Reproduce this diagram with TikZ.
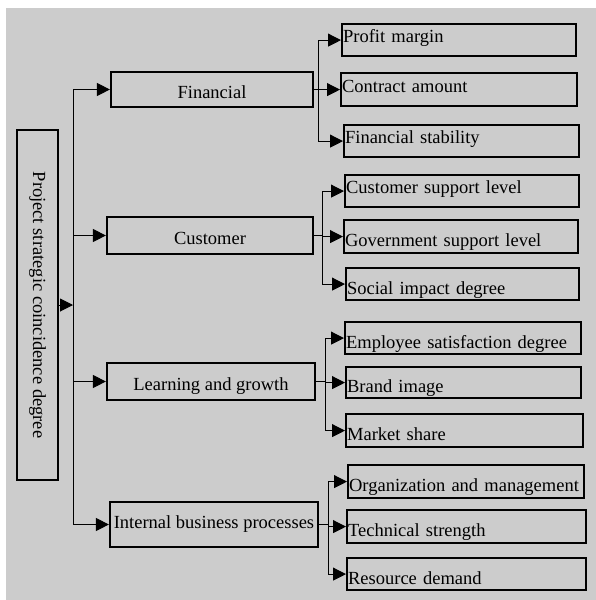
\documentclass[tikz,border=0pt]{standalone}
\usepackage{fontspec}
\setmainfont{Liberation Serif}
\usepackage{tikz}
\usetikzlibrary{arrows.meta,positioning}
\definecolor{panelgray}{RGB}{204,204,204}

\begin{document}
\begin{tikzpicture}[
  x=1pt,y=-1pt,
  font=\fontsize{18.5}{22}\selectfont,
  box/.style={draw,line width=2.2pt,align=center,inner sep=1pt,text height=17pt,text depth=0pt},
  leaf/.style={draw,line width=2.2pt,align=left,inner xsep=1pt,inner ysep=0pt,
               anchor=north west,minimum height=32pt,text height=20pt,text depth=0pt},
  upper/.style={text height=5pt},
  arrow/.style={-{Triangle[length=13pt,width=13pt]},line width=1pt},
  link/.style={line width=1pt}
]
\useasboundingbox (0,0) rectangle (596,600);
\fill[panelgray] (6,8) rectangle (596,600);

% root and second level
\node[draw,line width=2.2pt,inner sep=1pt,rotate=-90,minimum width=350pt,minimum height=41pt] (root) at (37.5,305) {Project strategic coincidence degree};
\node[box,minimum width=202pt,minimum height=35pt] (fin) at (212,89.5) {Financial};
\node[box,minimum width=206pt,minimum height=37pt] (cust) at (210,235.5) {Customer};
\node[box,minimum width=208pt,minimum height=37pt] (learn) at (211,381.5) {Learning and growth};
\node[box,text height=8pt,minimum width=208pt,minimum height=45pt] (intern) at (214,524.5) {Internal business processes};

% indicators
\node[leaf,upper,text width=232pt] (profit) at (341,23) {Profit margin};
\node[leaf,upper,text width=234pt,minimum height=33pt] (contract) at (340,72) {Contract amount};
\node[leaf,upper,text width=233pt] (stability) at (343,124) {Financial stability};
\node[leaf,upper,text width=232pt] (custsup) at (344,174) {Customer support level};
\node[leaf,text width=232pt,minimum height=33pt] (govsup) at (343,219) {Government support level};
\node[leaf,text width=231pt] (social) at (345,267) {Social impact degree};
\node[leaf,text width=234pt] (employee) at (344,321) {Employee satisfaction degree};
\node[leaf,text width=233pt,minimum height=31pt] (brand) at (345,366) {Brand image};
\node[leaf,text width=235pt,minimum height=33pt] (market) at (345,413) {Market share};
\node[leaf,text width=234pt,minimum height=33pt] (org) at (347,464) {Organization and management};
\node[leaf,text width=237pt,minimum height=33pt] (tech) at (346,509) {Technical strength};
\node[leaf,text width=237pt] (resource) at (346,557) {Resource demand};

% forks
\coordinate (trunk) at (73,305);
\coordinate[right=4pt of fin.east] (finfork);
\coordinate[right=8pt of cust.east] (custfork);
\coordinate[right=9pt of learn.east] (learnfork);
\coordinate[right=9pt of intern.east] (internfork);

\draw[arrow] (root)--(trunk);
\draw[arrow] (trunk)|-(fin.west);
\draw[arrow] (trunk)|-(cust.west);
\draw[arrow] (trunk)|-(learn.west);
\draw[arrow] (trunk)|-(intern.west);

\draw[link] (fin.east)--(finfork);
\draw[arrow] (finfork)|-(profit.west);
\draw[arrow] (finfork)|-(contract.west);
\draw[arrow] (finfork)|-(stability.west);

\draw[link] (cust.east)--(custfork);
\draw[arrow] (custfork)|-(custsup.west);
\draw[arrow] (custfork)|-(govsup.west);
\draw[arrow] (custfork)|-(social.west);

\draw[link] (learn.east)--(learnfork);
\draw[arrow] (learnfork)|-(employee.west);
\draw[arrow] (learnfork)|-(brand.west);
\draw[arrow] (learnfork)|-(market.west);

\draw[link] (intern.east)--(internfork);
\draw[arrow] (internfork)|-(org.west);
\draw[arrow] (internfork)|-(tech.west);
\draw[arrow] (internfork)|-(resource.west);
\end{tikzpicture}
\end{document}
